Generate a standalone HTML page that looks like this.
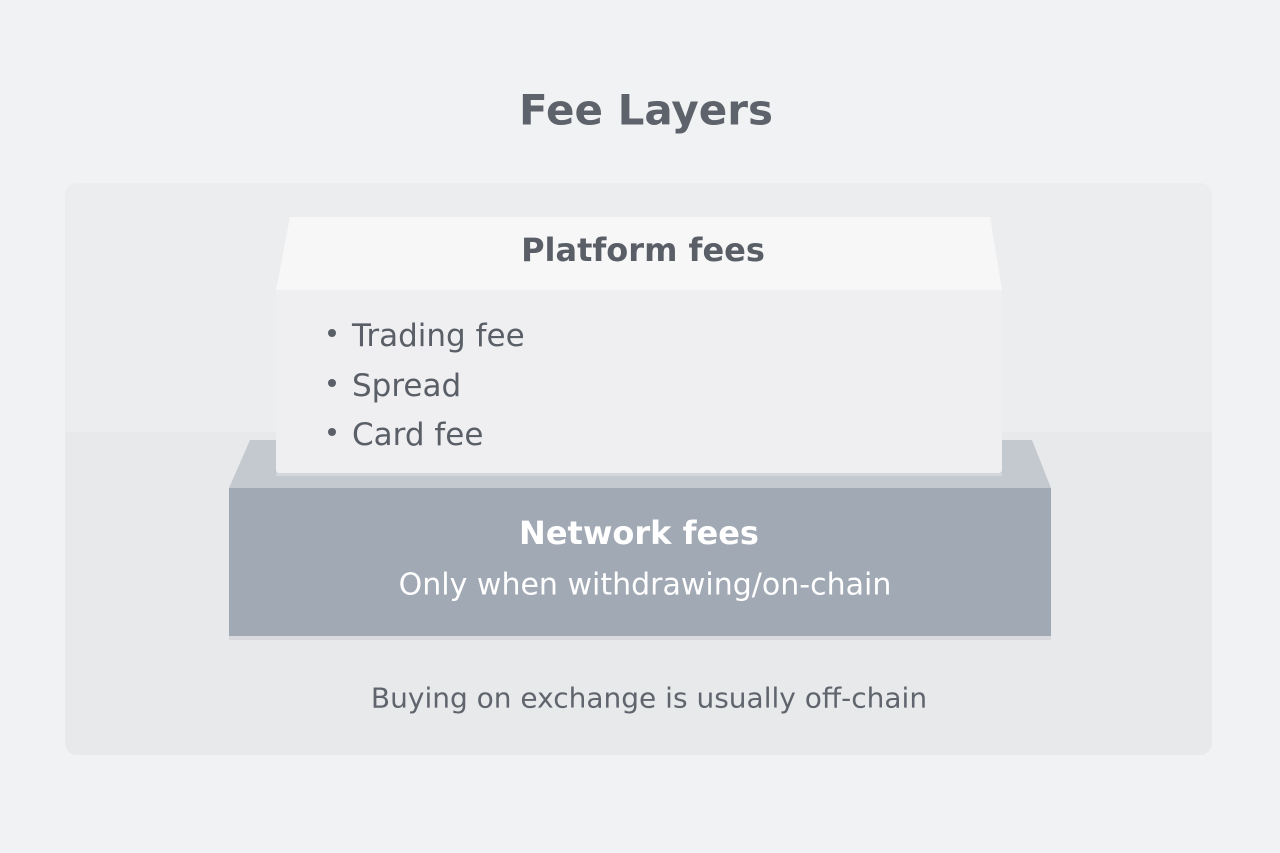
<!DOCTYPE html>
<html><head><meta charset="utf-8"><style>
body{margin:0;width:1280px;height:853px;background:#f1f2f4;position:relative;overflow:hidden;font-family:"DejaVu Sans","Liberation Sans",sans-serif}
.a{position:absolute}
.t{position:absolute;white-space:nowrap;transform:translate(-50%,-50%)}
.b{position:absolute;left:352px;font-size:31px;color:#5a5f67;white-space:nowrap;transform:translateY(-50%)}
.d{position:absolute;left:328px;width:8px;height:8px;border-radius:50%;background:#5a5f67}
</style></head><body>
<div class="a" style="left:65px;top:183px;width:1147px;height:572px;background:#ecedef;border-radius:12px;overflow:hidden">
<div class="a" style="left:0;top:249px;width:1147px;height:323px;background:#e8e9eb"></div>
</div>
<svg class="a" style="left:0;top:0" width="1280" height="853">
<polygon points="290,217 990,217 1002,290 276,290" fill="#f7f7f8"/>
<polygon points="250,440 1032,440 1051,488 229,488" fill="#c4c9d0"/>
<rect x="229" y="488" width="822" height="148" fill="#a1a9b4"/>
<rect x="229" y="636" width="822" height="4" fill="#d8dadd"/>
<rect x="276" y="290" width="726" height="183" rx="3" fill="#efeff1"/>
<rect x="276" y="473" width="726" height="3" fill="#d3d6da"/>
</svg>
<div class="t" style="left:646px;top:110px;font-size:42px;font-weight:bold;color:#5e636b">Fee Layers</div>
<div class="t" style="left:643px;top:250px;font-size:32px;font-weight:bold;color:#5a5f67">Platform fees</div>
<div class="d" style="top:329px"></div><div class="b" style="top:336px">Trading fee</div>
<div class="d" style="top:379px"></div><div class="b" style="top:386px">Spread</div>
<div class="d" style="top:428px"></div><div class="b" style="top:435px">Card fee</div>
<div class="t" style="left:639px;top:533px;font-size:32px;font-weight:bold;color:#fff">Network fees</div>
<div class="t" style="left:645px;top:585px;font-size:30px;color:#fff">Only when withdrawing/on-chain</div>
<div class="t" style="left:649px;top:698px;font-size:28px;color:#60656d">Buying on exchange is usually off-chain</div>
</body></html>
